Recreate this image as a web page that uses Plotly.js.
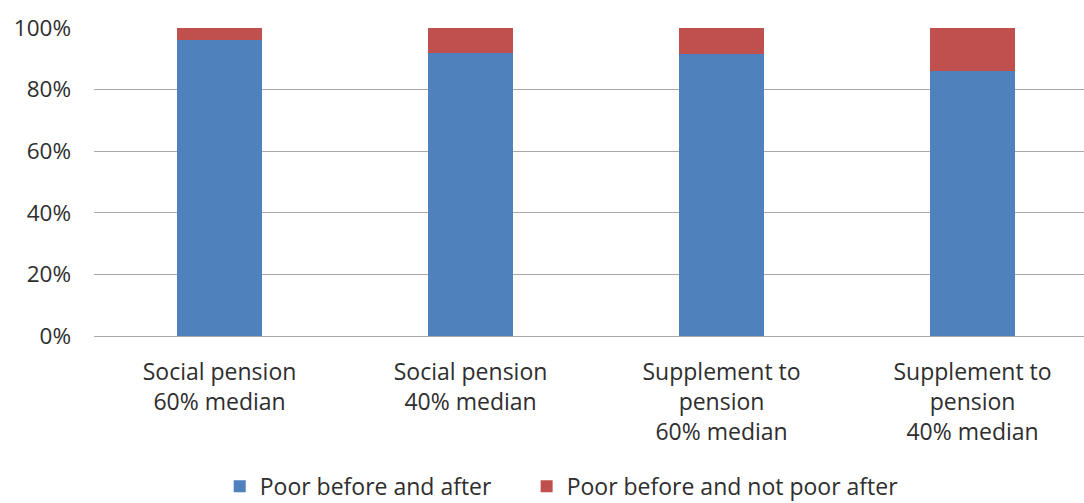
<!DOCTYPE html>
<html>
<head>
<meta charset="utf-8">
<script src="https://cdn.plot.ly/plotly-3.0.1.min.js"></script>
<style>html,body{margin:0;padding:0;background:#fff;}#chart{width:1084px;height:503px;}</style>
</head>
<body>
<div id="chart"></div>
<script>
const categories = [
  "Social pension<br>60% median",
  "Social pension<br>40% median",
  "Supplement to<br>pension<br>60% median",
  "Supplement to<br>pension<br>40% median"
];
const poorBeforeAndAfter = [0.961, 0.918, 0.915, 0.859];
const poorBeforeNotAfter = [0.039, 0.082, 0.085, 0.141];
const seriesNames = ["Poor before and after", "Poor before and not poor after"];
const yTickVals = [0, 0.2, 0.4, 0.6, 0.8, 1.0];
const yTickText = ["0%", "20%", "40%", "60%", "80%", "100%"];

const xIdx = categories.map((c, i) => i);
const font = {family: "Open Sans, sans-serif", size: 23, color: "#2e2e2e"};
const yfont = {family: "Open Sans, sans-serif", size: 22.5, color: "#2e2e2e"};

const traces = [
  {type: "bar", name: seriesNames[0], x: xIdx, y: poorBeforeAndAfter,
   marker: {color: "#4F81BD"}, width: 0.34, hoverinfo: "none", legend: "legend"},
  {type: "bar", name: seriesNames[1], x: xIdx, y: poorBeforeNotAfter,
   marker: {color: "#C0504D"}, width: 0.34, hoverinfo: "none", legend: "legend2"}
];

const legendBase = {orientation: "h", y: -0.488, yanchor: "middle", xanchor: "left",
                    font: font, itemwidth: 30, bgcolor: "rgba(0,0,0,0)"};

const layout = {
  width: 1084, height: 503,
  barmode: "stack",
  margin: {l: 94, r: 0, t: 28, b: 167, autoexpand: false},
  paper_bgcolor: "#ffffff", plot_bgcolor: "#ffffff",
  font: font,
  showlegend: true,
  legend: Object.assign({}, legendBase, {x: 0.127}),
  legend2: Object.assign({}, legendBase, {x: 0.437}),
  xaxis: {range: [-0.5, 3.444], tickvals: xIdx, ticktext: categories,
          showgrid: false, zeroline: false, showline: false, ticks: "",
          ticklabelstandoff: 20, automargin: false,
          tickfont: font, fixedrange: true},
  yaxis: {range: [0, 1], tickvals: yTickVals, ticktext: yTickText,
          showgrid: true, gridcolor: "#a8a8a8", gridwidth: 1,
          zeroline: true, zerolinecolor: "#a8a8a8", zerolinewidth: 1,
          showline: false, ticks: "", ticklabelstandoff: 22, automargin: false,
          tickfont: yfont, fixedrange: true}
};

Plotly.newPlot("chart", traces, layout, {staticPlot: true, displayModeBar: false});
</script>
</body>
</html>
